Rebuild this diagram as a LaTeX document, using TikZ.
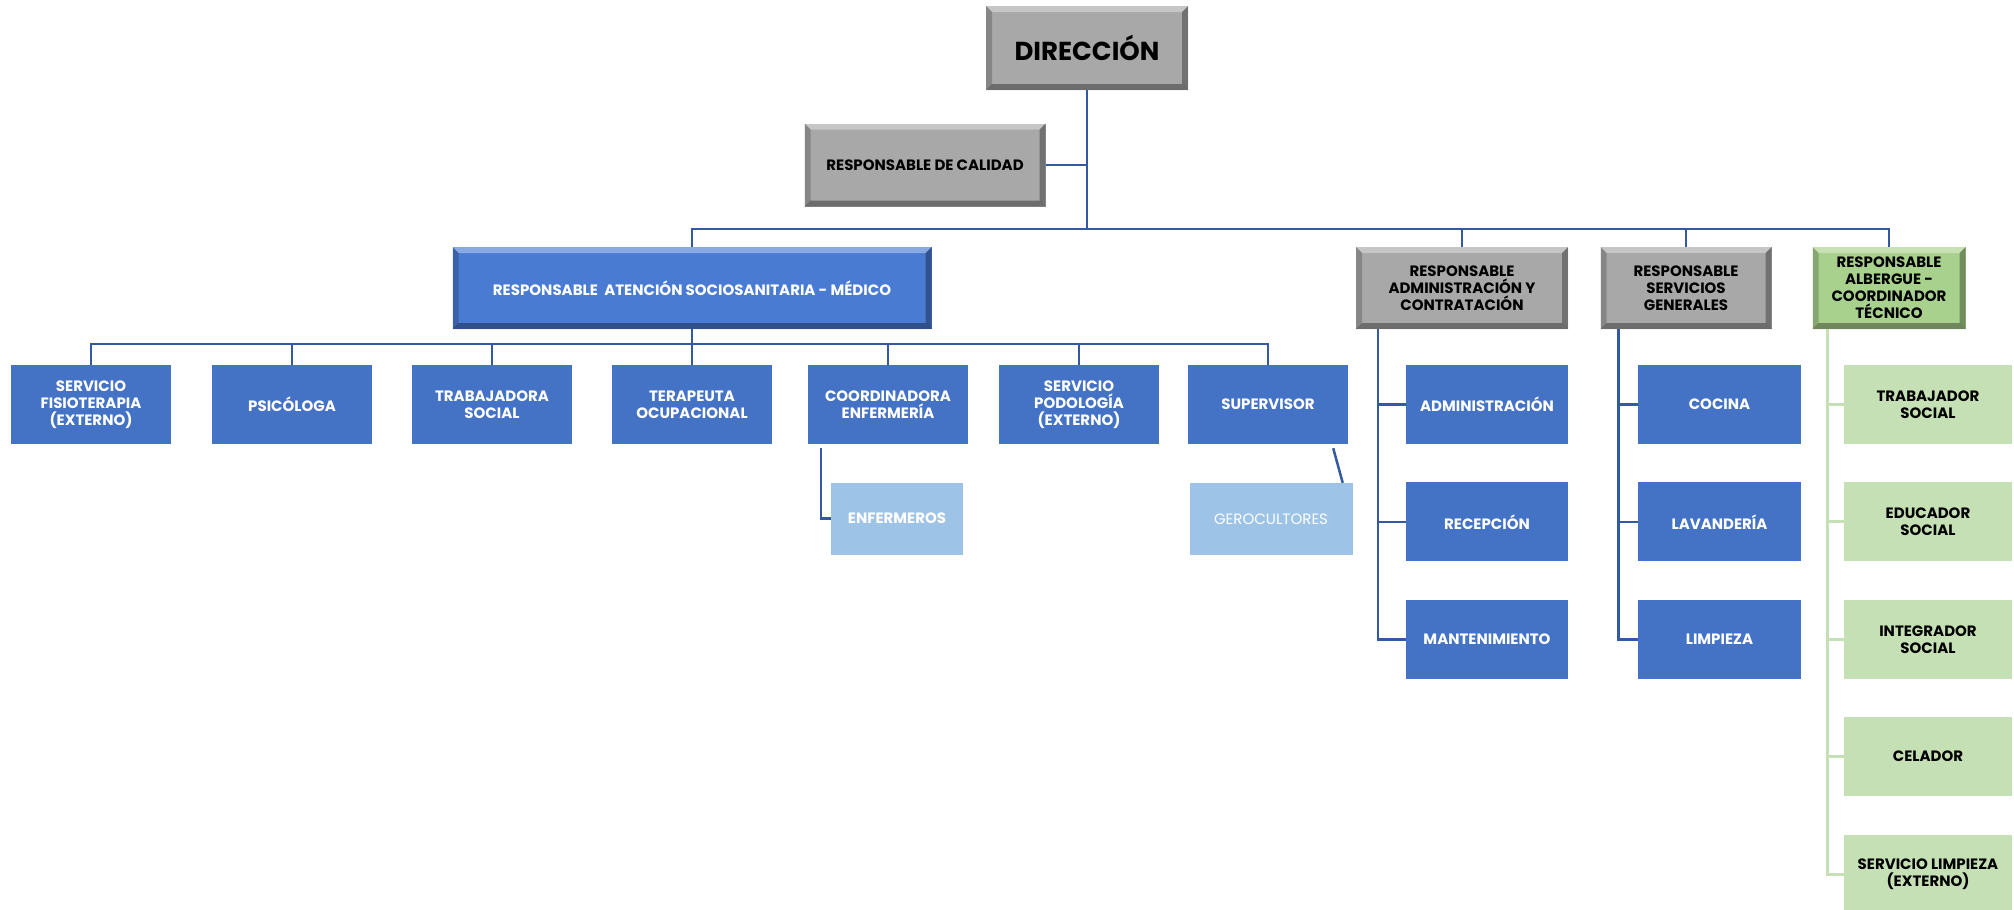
\documentclass[tikz,border=0pt]{standalone}
\usepackage{fontspec}
\setmainfont{Poppins}
\usetikzlibrary{positioning}
\definecolor{unitcol}{HTML}{4472C4}
\definecolor{medcol}{HTML}{4A7BD3}
\definecolor{subcol}{HTML}{9DC3E6}
\definecolor{headcol}{HTML}{A8A8A8}
\definecolor{albcol}{HTML}{A9D18E}
\definecolor{teamcol}{HTML}{C5E0B4}
\definecolor{linecol}{HTML}{3358A4}
\tikzset{
  basic box/.style = {
    shape = rectangle,
    align = center,
    inner sep = 2pt,
    font = \bfseries\fontsize{15}{17}\selectfont,
    },
  bevel/.style = {
    path picture = {
      \fill[white,opacity=.35] (path picture bounding box.north west) -- (path picture bounding box.north east)
        -- ([xshift=-#1,yshift=-#1]path picture bounding box.north east) -- ([xshift=#1,yshift=-#1]path picture bounding box.north west) -- cycle;
      \fill[black,opacity=.35] (path picture bounding box.south west) -- (path picture bounding box.south east)
        -- ([xshift=-#1,yshift=#1]path picture bounding box.south east) -- ([xshift=#1,yshift=#1]path picture bounding box.south west) -- cycle;
      \fill[black,opacity=.2] (path picture bounding box.north west) -- (path picture bounding box.south west)
        -- ([xshift=#1,yshift=#1]path picture bounding box.south west) -- ([xshift=#1,yshift=-#1]path picture bounding box.north west) -- cycle;
      \fill[black,opacity=.32] (path picture bounding box.north east) -- (path picture bounding box.south east)
        -- ([xshift=-#1,yshift=#1]path picture bounding box.south east) -- ([xshift=-#1,yshift=-#1]path picture bounding box.north east) -- cycle;
    },
  },
  bevel/.default = 6pt,
  head box/.style = {
    basic box,
    bevel,
    fill = headcol,
    text = black,
    minimum height = 82pt,
    },
  med box/.style = {
    basic box,
    bevel,
    fill = medcol,
    text = white,
    minimum width = 479pt,
    minimum height = 82pt,
    },
  alb box/.style = {
    basic box,
    bevel,
    fill = albcol,
    text = black,
    minimum width = 153pt,
    minimum height = 82pt,
    },
  unit box/.style = {
    basic box,
    fill = unitcol,
    text = white,
    minimum width = 162pt,
    minimum height = 79pt,
    },
  sub box/.style = {
    basic box,
    fill = subcol,
    text = white,
    minimum height = 72pt,
    },
  team box/.style = {
    basic box,
    fill = teamcol,
    text = black,
    minimum width = 168pt,
    minimum height = 79pt,
    },
  org line/.style = {line width=2.5pt, linecol},
  team line/.style = {line width=3pt, teamcol},
}

\begin{document}
\begin{tikzpicture}[x=1pt,y=-1pt]
    \useasboundingbox (0,0) rectangle (2014,910);

    % direction
    \node[head box, minimum width=202pt, minimum height=84pt, font=\bfseries\fontsize{26}{30}\selectfont] (dir) at (1087,48) {DIRECCIÓN};
    \node[head box, minimum width=241pt, minimum height=83pt] (cal) at (925,165) {RESPONSABLE DE CALIDAD};

    % responsables
    \node[med box] (med) at (692,288) {RESPONSABLE\ \ ATENCIÓN SOCIOSANITARIA - MÉDICO};
    \node[head box, minimum width=212pt] (adm) at (1462,288) {RESPONSABLE\\ADMINISTRACIÓN Y\\CONTRATACIÓN};
    \node[head box, minimum width=171pt] (serv) at (1686,288) {RESPONSABLE\\SERVICIOS\\GENERALES};
    \node[alb box] (alb) at (1889,288) {RESPONSABLE\\ALBERGUE -\\COORDINADOR\\TÉCNICO};

    % atencion sociosanitaria
    \node[unit box, minimum width=160pt] (fis) at (91,404.5) {SERVICIO\\FISIOTERAPIA\\(EXTERNO)};
    \node[unit box, minimum width=160pt] (psi) at (292,404.5) {PSICÓLOGA};
    \node[unit box, minimum width=160pt] (tra) at (492,404.5) {TRABAJADORA\\SOCIAL};
    \node[unit box, minimum width=160pt] (ter) at (692,404.5) {TERAPEUTA\\OCUPACIONAL};
    \node[unit box, minimum width=160pt] (coo) at (888,404.5) {COORDINADORA\\ENFERMERÍA};
    \node[unit box, minimum width=160pt] (pod) at (1079,404.5) {SERVICIO\\PODOLOGÍA\\(EXTERNO)};
    \node[unit box, minimum width=160pt] (sup) at (1268,404.5) {SUPERVISOR};

    \node[sub box, minimum width=132pt] (enf) at (897,518.5) {ENFERMEROS};
    \node[sub box, minimum width=163pt, font=\fontsize{15}{17}\selectfont] (ger) at (1271,519) {GEROCULTORES};

    % administracion
    \node[unit box] (adm1) at (1487,404.5) {ADMINISTRACIÓN};
    \node[unit box, below=38pt of adm1] (adm2) {RECEPCIÓN};
    \node[unit box, below=38pt of adm2] (adm3) {MANTENIMIENTO};

    % servicios generales
    \node[unit box, minimum width=163pt] (serv1) at (1719.5,404.5) {COCINA};
    \node[unit box, minimum width=163pt, below=38pt of serv1] (serv2) {LAVANDERÍA};
    \node[unit box, minimum width=163pt, below=38pt of serv2] (serv3) {LIMPIEZA};

    % albergue
    \node[team box] (alb1) at (1928,404.5) {TRABAJADOR\\SOCIAL};
    \node[team box, below=38pt of alb1] (alb2) {EDUCADOR\\SOCIAL};
    \node[team box, below=38pt of alb2] (alb3) {INTEGRADOR\\SOCIAL};
    \node[team box, below=38pt of alb3] (alb4) {CELADOR};
    \node[team box, below=38pt of alb4] (alb5) {SERVICIO LIMPIEZA\\(EXTERNO)};

    % Paths

    \coordinate (bus) at (1087,229);
    \draw[org line] (dir.south) -- (bus);
    \draw[org line] (cal.east) -- (cal.east -| dir.south);
    \draw[org line] (med.north) |- (bus) -| (alb.north);
    \draw[org line] (adm.north) -- (adm.north |- bus);
    \draw[org line] (serv.north) -- (serv.north |- bus);

    \coordinate (medbus) at (692,344);
    \draw[org line] (med.south) -- (medbus);
    \draw[org line] (fis.north) |- (medbus) -| (sup.north);
    \draw[org line] (psi.north) -- (psi.north |- medbus);
    \draw[org line] (tra.north) -- (tra.north |- medbus);
    \draw[org line] (ter.north) -- (ter.north |- medbus);
    \draw[org line] (coo.north) -- (coo.north |- medbus);
    \draw[org line] (pod.north) -- (pod.north |- medbus);

    \draw[org line] ([xshift=13pt,yshift=-4pt]coo.south west) |- (enf.west);
    \draw[org line] ([xshift=-15pt,yshift=-4pt]sup.south east) -- ([xshift=-10pt]ger.north east);

    \coordinate (admline) at ([xshift=22pt]adm.south west);
    \draw[org line] (admline) |- (adm3.west);
    \draw[org line] (adm1.west) -- (adm1.west -| admline);
    \draw[org line] (adm2.west) -- (adm2.west -| admline);

    \coordinate (servline) at ([xshift=18pt]serv.south west);
    \draw[org line] (servline) |- (serv3.west);
    \draw[org line] (serv1.west) -- (serv1.west -| servline);
    \draw[org line] (serv2.west) -- (serv2.west -| servline);

    \coordinate (albline) at ([xshift=15pt]alb.south west);
    \draw[team line] (albline) |- (alb5.west);
    \draw[team line] (alb1.west) -- (alb1.west -| albline);
    \draw[team line] (alb2.west) -- (alb2.west -| albline);
    \draw[team line] (alb3.west) -- (alb3.west -| albline);
    \draw[team line] (alb4.west) -- (alb4.west -| albline);

\end{tikzpicture}
\end{document}
